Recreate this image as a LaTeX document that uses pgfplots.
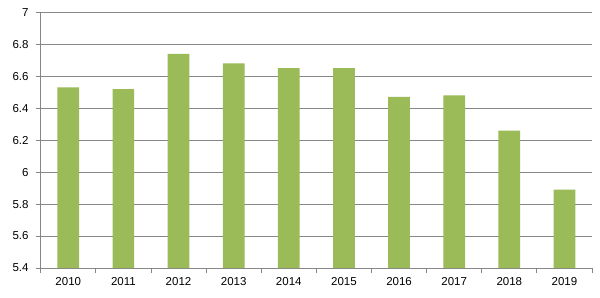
\documentclass[border=0pt]{standalone}
\usepackage{pgfplots}
\pgfplotsset{compat=1.18}
\usepackage{fontspec}
\setmainfont{Liberation Sans}
\definecolor{bargreen}{HTML}{9BBB59}
\definecolor{gridgray}{HTML}{868686}
\begin{document}
\begin{tikzpicture}[x=1bp,y=1bp]
\useasboundingbox[fill=white] (0,0) rectangle (600,297);
\begin{axis}[
  at={(40.7bp,29bp)}, anchor=south west,
  scale only axis,
  width=551.3bp, height=255.7bp,
  xmin=-0.5, xmax=9.5,
  ymin=5.4, ymax=7,
  ytick={5.4,5.6,...,7.01},
  xtick={-0.5,0.5,...,9.6},
  xticklabels={2010,2011,2012,2013,2014,2015,2016,2017,2018,2019},
  x tick label as interval=true,
  axis x line*=bottom,
  axis y line*=left,
  axis line style={gridgray, line width=0.8bp},
  tick style={gridgray, line width=0.8bp},
  tick align=outside,
  major tick length=5bp,
  ymajorgrids,
  major grid style={gridgray, line width=0.8bp},
  /pgf/number format/assume math mode=true,
  tick label style={font=\fontsize{11.5bp}{13bp}\selectfont, black},
  yticklabel style={anchor=east, inner sep=0pt, xshift=-7bp},
  xticklabel style={anchor=north, inner sep=0pt, yshift=-4bp},
  yticklabel={\pgfmathprintnumber{\tick}},
]
\addplot[ybar, bar width=21.7bp, fill=bargreen, draw=none, bar shift=0pt]
  coordinates {(0,6.53) (1,6.52) (2,6.74) (3,6.68) (4,6.65) (5,6.65) (6,6.47) (7,6.48) (8,6.26) (9,5.89)};
\end{axis}
\end{tikzpicture}
\end{document}
